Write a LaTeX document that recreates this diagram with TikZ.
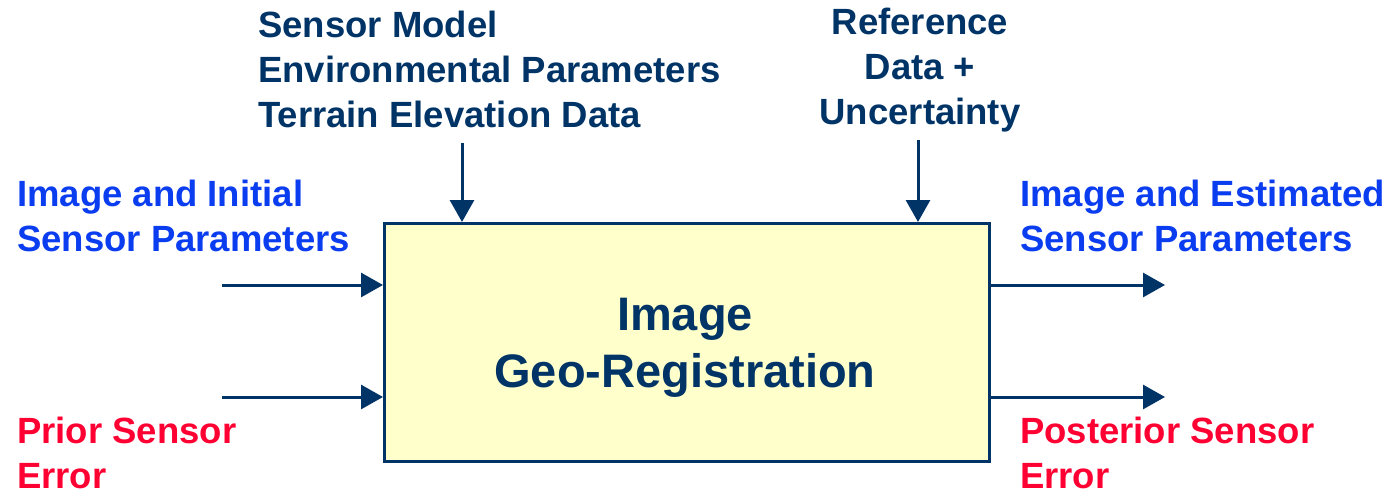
\documentclass[tikz,border=0pt]{standalone}
\usepackage{fontspec}
\setmainfont{Liberation Sans}
\usetikzlibrary{arrows.meta}
\definecolor{navy}{HTML}{003366}
\definecolor{inblue}{HTML}{0A3CF0}
\definecolor{errred}{HTML}{FF0033}
\definecolor{boxfill}{HTML}{FFFFCC}
\tikzset{
  lbl/.style={inner sep=0pt, font=\bfseries\fontsize{36.5}{45}\selectfont},
  flow/.style={draw=navy, line width=3pt, -{Triangle[length=22pt,width=24pt]}},
}
\begin{document}
\begin{tikzpicture}[x=1pt,y=-1pt]
\useasboundingbox (0,0) rectangle (1397,495);

% central process box
\node[draw=navy, line width=2.5pt, fill=boxfill, minimum width=605pt, minimum height=238pt,
      inner sep=0pt, anchor=north west] (box) at (383,222) {};
\node[inner sep=0pt, align=center, text=navy,
      font=\bfseries\fontsize{47}{57}\selectfont] (title) at (685,348) {Image\\Geo-Registration};

% labels
\node[lbl, text=navy, align=left, anchor=west] (ctrl) at (258,69)
  {Sensor Model\\Environmental Parameters\\Terrain Elevation Data};
\node[lbl, text=navy, align=center] (refd) at (920,70)
  {Reference\\Data +\\Uncertainty};
\node[lbl, text=inblue, align=left, anchor=west] (imgin) at (17,216)
  {Image and Initial\\Sensor Parameters};
\node[lbl, text=inblue, align=left, anchor=west] (imgout) at (1020,216)
  {Image and Estimated\\Sensor Parameters};
\node[lbl, text=errred, align=left, anchor=west] (errin) at (17,453)
  {Prior Sensor\\Error};
\node[lbl, text=errred, align=left, anchor=west] (errout) at (1020,453)
  {Posterior Sensor\\Error};

% arrow end points
\coordinate (ctrlfoot) at (462,143);
\coordinate (reffoot) at (918,140);
\coordinate (inA) at (222,285);
\coordinate (inB) at (222,397);
\coordinate (outA) at (1165,285);
\coordinate (outB) at (1165,397);

% connectors
\draw[flow] (ctrlfoot) -- (ctrlfoot |- box.north);
\draw[flow] (reffoot) -- (reffoot |- box.north);
\draw[flow] (inA) -- (box.west |- inA);
\draw[flow] (inB) -- (box.west |- inB);
\draw[flow] (box.east |- outA) -- (outA);
\draw[flow] (box.east |- outB) -- (outB);
\end{tikzpicture}
\end{document}
